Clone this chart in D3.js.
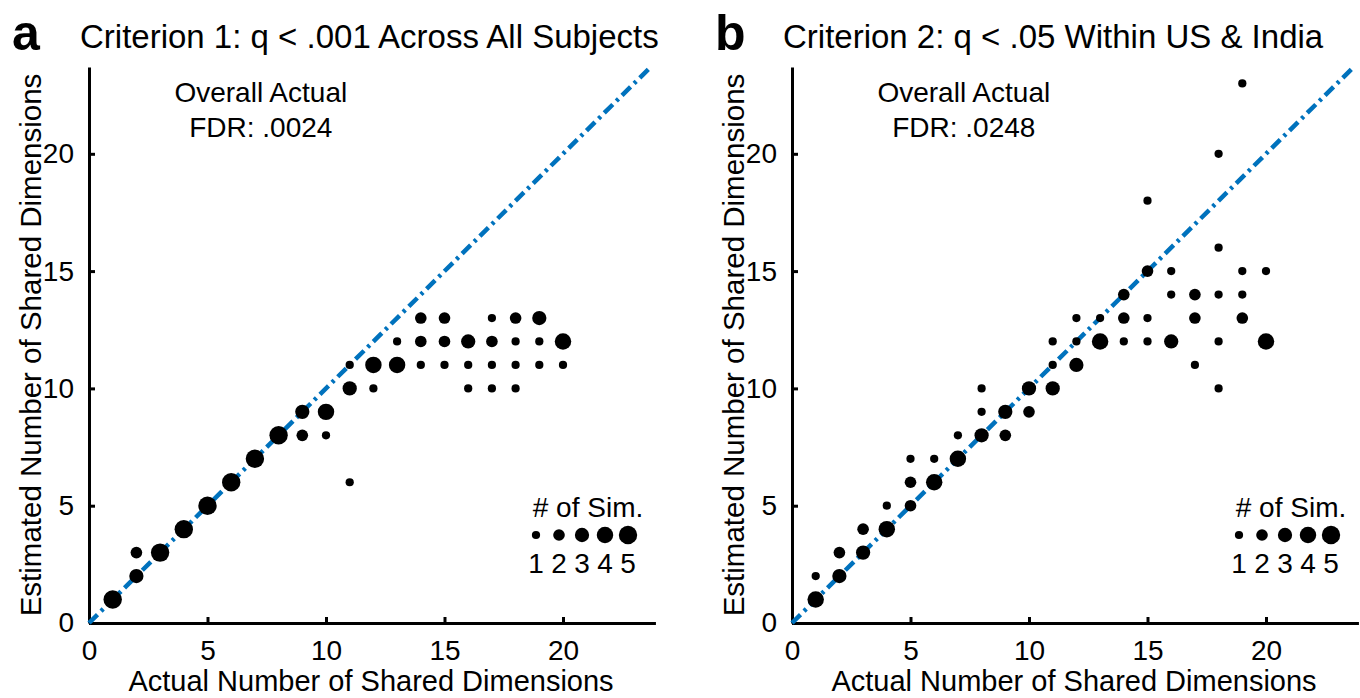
<!DOCTYPE html>
<meta charset="utf-8">
<script src="https://cdn.jsdelivr.net/npm/d3@7"></script>
<style>
body { margin: 0; background: #fff; }
text { font-family: "Liberation Sans", Arial, sans-serif; fill: #000; }
.axis path, .axis line { stroke: #000; stroke-width: 3px; }
.axis text { font-size: 28px; }
.diag { fill: none; stroke: #0072BD; stroke-width: 4.5px; stroke-dasharray: 12,5,3,5; }
</style>
<body>
<script>

// panel a - criterion 1 (actual, estimated, number of simulations)
var actualA = [1,2,2,3,4,5,6,7,8,9,9,10,10,11,11,11,12,12,13,13,14,14,14,15,15,15,16,16,16,17,17,17,17,18,18,18,18,19,19,19,20,20];
var estimA  = [1,2,3,3,4,5,6,7,8,9,8,9,8,11,10,6,11,10,12,11,13,12,11,13,12,11,12,11,10,13,12,11,10,13,12,11,10,13,12,11,12,11];
var simsA   = [5,3,2,5,5,5,5,5,5,3,2,4,1,1,3,1,4,1,1,4,2,2,1,2,2,1,3,1,1,1,2,1,1,2,1,1,1,3,1,1,4,1];

// panel b - criterion 2
var actualB = [1,1,2,2,3,3,4,4,5,5,5,6,6,7,7,8,8,8,9,9,10,10,11,11,11,12,12,12,13,13,14,14,14,15,15,15,15,16,16,16,17,17,17,18,18,18,18,18,19,19,19,19,20,20];
var estimB  = [1,2,2,3,3,4,4,5,5,6,7,6,7,7,8,8,9,10,9,8,10,9,12,11,10,13,12,11,13,12,14,13,12,18,15,13,12,15,14,12,14,13,11,20,16,14,12,10,23,15,14,13,15,12];
var simsB   = [4,1,3,2,3,2,4,1,2,2,1,4,1,4,1,3,1,1,3,2,3,2,1,1,3,1,1,3,1,4,2,2,1,1,2,1,1,1,1,3,2,2,1,1,1,1,1,1,1,1,1,2,1,4];

var xTicks = [0,5,10,15,20];
var yTicks = [0,5,10,15,20];
var legendCounts = [1,2,3,4,5];

var letters = ["a", "b"];
var titles = ["Criterion 1: q < .001 Across All Subjects", "Criterion 2: q < .05 Within US & India"];
var fdrValues = [".0024", ".0248"];

var width = 1360, height = 698;
var svg = d3.select("body").append("svg")
    .attr("width", width)
    .attr("height", height);

var panels = [
  {left: 89,  actual: actualA, est: estimA, sims: simsA},
  {left: 792, actual: actualB, est: estimB, sims: simsB}
];

var yBottom = 623, yTop = 67;
var unitX = 23.7;
var xMax = 23.9, yMax = 23.7;

var r = d3.scaleSqrt().domain([0, 5]).range([0, 9.2]);

panels.forEach(function(p, i) {
  var x = d3.scaleLinear().domain([0, xMax]).range([p.left, p.left + xMax * unitX]);
  var y = d3.scaleLinear().domain([0, yMax]).range([yBottom, yTop]);

  var g = svg.append("g");

  // axes
  g.append("g")
      .attr("class", "axis")
      .attr("transform", "translate(0," + yBottom + ")")
      .call(d3.axisBottom(x).tickValues(xTicks).tickSizeInner(-6).tickSizeOuter(0).tickPadding(17))
      .call(function(a) { a.selectAll("text").attr("font-family", null).attr("font-size", null); });

  g.append("g")
      .attr("class", "axis")
      .attr("transform", "translate(" + p.left + ",0)")
      .call(d3.axisLeft(y).tickValues(yTicks).tickSizeInner(-6).tickSizeOuter(0).tickPadding(15))
      .call(function(a) { a.selectAll("text").attr("font-family", null).attr("font-size", null); });

  // identity line
  g.append("path")
      .attr("class", "diag")
      .attr("d", d3.line()([[x(0), y(0)], [x(yMax), y(yMax)]]));

  // dots
  g.selectAll("circle.pt")
      .data(p.actual.map(function(a, k) { return {a: a, e: p.est[k], n: p.sims[k]}; }))
    .enter().append("circle")
      .attr("class", "pt")
      .attr("cx", function(d) { return x(d.a); })
      .attr("cy", function(d) { return y(d.e); })
      .attr("r", function(d) { return r(d.n); })
      .style("fill", "#000");

  // titles
  g.append("text")
      .attr("x", p.left - 77)
      .attr("y", 50)
      .style("font-size", "50px")
      .style("font-weight", "bold")
      .text(letters[i]);

  g.append("text")
      .attr("x", p.left - 9)
      .attr("y", 48)
      .style("font-size", "33px")
      .text(titles[i]);

  // axis labels
  g.append("text")
      .attr("x", x(11.9))
      .attr("y", 691)
      .attr("text-anchor", "middle")
      .style("font-size", "29px")
      .text("Actual Number of Shared Dimensions");

  g.append("text")
      .attr("transform", "translate(" + (p.left - 48) + "," + ((yBottom + yTop) / 2) + ") rotate(-90)")
      .attr("text-anchor", "middle")
      .style("font-size", "29.5px")
      .text("Estimated Number of Shared Dimensions");

  // fdr note
  var note = g.append("text")
      .attr("text-anchor", "middle")
      .style("font-size", "28px");
  note.append("tspan").attr("x", x(7.25)).attr("y", 102).text("Overall Actual");
  note.append("tspan").attr("x", x(7.25)).attr("y", 137).text("FDR: " + fdrValues[i]);

  // size legend
  var lx = function(k) { return p.left + 447 + k * 23; };
  g.append("text")
      .attr("x", lx(2) + 6)
      .attr("y", 517)
      .attr("text-anchor", "middle")
      .style("font-size", "28px")
      .text("# of Sim.");

  g.selectAll("circle.leg")
      .data(legendCounts)
    .enter().append("circle")
      .attr("class", "leg")
      .attr("cx", function(d, k) { return lx(k); })
      .attr("cy", 535)
      .attr("r", function(d) { return r(d); })
      .style("fill", "#000");

  g.selectAll("text.legnum")
      .data(legendCounts)
    .enter().append("text")
      .attr("class", "legnum")
      .attr("x", function(d, k) { return lx(k); })
      .attr("y", 573)
      .attr("text-anchor", "middle")
      .style("font-size", "28px")
      .text(function(d) { return d; });
});

</script>
</body>
</html>
